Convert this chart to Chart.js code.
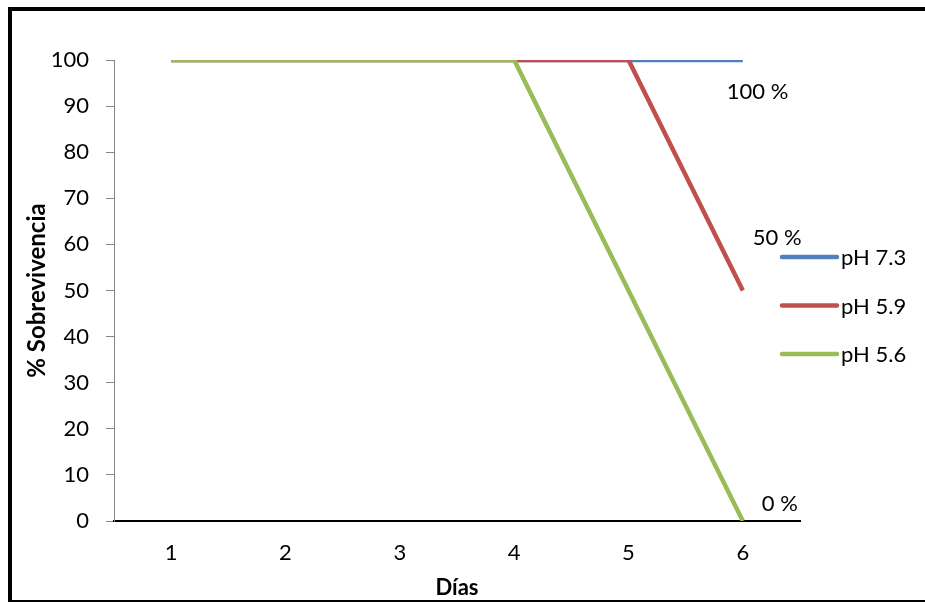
<!DOCTYPE html>
<html><head><meta charset="utf-8">
<script src="https://cdn.jsdelivr.net/npm/chart.js@4/dist/chart.umd.min.js"></script>
<style>html,body{margin:0;padding:0;background:#fff;}#wrap{width:925px;height:602px;position:relative}</style>
</head><body><div id="wrap"><canvas id="c" width="925" height="602"></canvas></div>
<script>
const categories = ['1', '2', '3', '4', '5', '6'];
const seriesNames = ['pH 7.3', 'pH 5.9', 'pH 5.6'];
const ph73 = [100, 100, 100, 100, 100, 100];
const ph59 = [100, 100, 100, 100, 100, 50];
const ph56 = [100, 100, 100, 100, 50, 0];
const seriesColors = ['#4F81BD', '#C0504D', '#9BBB59'];
const yTitle = '% Sobrevivencia';
const xTitle = 'Días';

const FONT = 'Lato';

const framePlugin = {
  id: 'frame',
  beforeDraw(chart) {
    const ctx = chart.ctx;
    ctx.save();
    ctx.fillStyle = '#fff';
    ctx.fillRect(0, 0, chart.width, chart.height);
    ctx.fillStyle = '#000';
    ctx.fillRect(8, 7, 4, chart.height - 7);
    ctx.fillRect(8, 7, chart.width - 8, 4);
    ctx.fillRect(8, chart.height - 2, chart.width - 8, 2);
    ctx.restore();
  }
};

const legendPlugin = {
  id: 'customLegend',
  afterDraw(chart, args, opts) {
    const ctx = chart.ctx;
    ctx.save();
    ctx.font = '22px ' + FONT;
    ctx.textBaseline = 'middle';
    ctx.textAlign = 'left';
    chart.data.datasets.forEach((ds, i) => {
      const y = opts.top + i * opts.spacing;
      ctx.strokeStyle = ds.borderColor;
      ctx.lineWidth = 4.5;
      ctx.lineCap = 'round';
      ctx.beginPath();
      ctx.moveTo(opts.left, y);
      ctx.lineTo(opts.left + opts.lineLen, y);
      ctx.stroke();
      ctx.fillStyle = '#000';
      ctx.fillText(ds.label, opts.left + opts.lineLen + 4, y + 1);
    });
    ctx.restore();
  }
};

const labelPlugin = {
  id: 'endLabels',
  afterDatasetsDraw(chart, args, opts) {
    const ctx = chart.ctx;
    ctx.save();
    ctx.font = '22px ' + FONT;
    ctx.textBaseline = 'middle';
    ctx.textAlign = 'left';
    ctx.fillStyle = '#000';
    chart.data.datasets.forEach((ds, i) => {
      const meta = chart.getDatasetMeta(i);
      const last = meta.data.length - 1;
      const pt = meta.data[last];
      const off = opts.offsets[i];
      ctx.fillText(ds.data[last] + ' %', pt.x + off.dx, pt.y + off.dy);
    });
    ctx.restore();
  }
};

new Chart(document.getElementById('c'), {
  type: 'line',
  data: {
    labels: categories,
    datasets: [
      { label: seriesNames[0], data: ph73, borderColor: seriesColors[0], backgroundColor: seriesColors[0], order: 3 },
      { label: seriesNames[1], data: ph59, borderColor: seriesColors[1], backgroundColor: seriesColors[1], order: 2 },
      { label: seriesNames[2], data: ph56, borderColor: seriesColors[2], backgroundColor: seriesColors[2], order: 1 }
    ]
  },
  options: {
    responsive: false,
    animation: false,
    events: [],
    elements: {
      line: { borderWidth: 4.5, tension: 0 },
      point: { radius: 0 }
    },
    layout: { padding: { left: 0, top: 60, right: 125, bottom: 0 } },
    plugins: {
      legend: { display: false },
      tooltip: { enabled: false },
      customLegend: { left: 782, lineLen: 55, top: 257, spacing: 48.5 },
      endLabels: { offsets: [{ dx: -16, dy: 32 }, { dx: 10, dy: -53 }, { dx: 19, dy: -17 }] }
    },
    scales: {
      x: {
        type: 'category',
        offset: true,
        grid: { display: false, drawTicks: false },
        border: { display: true, color: '#000', width: 2 },
        ticks: { color: '#000', font: { family: FONT, size: 22 }, padding: 19, maxRotation: 0 },
        title: { display: true, text: xTitle, color: '#000', font: { family: FONT, size: 22, weight: 'bold' }, padding: { top: 0, bottom: 1 } },
        afterFit(scale) { scale.height = 81; }
      },
      y: {
        min: 0, max: 100,
        grid: { display: true, drawOnChartArea: false, drawTicks: true, tickLength: 8, color: '#868686', lineWidth: 1 },
        border: { display: true, color: '#868686', width: 1 },
        ticks: { stepSize: 10, color: '#000', font: { family: FONT, size: 22 }, padding: 17 },
        title: { display: true, text: yTitle, color: '#000', font: { family: FONT, size: 24, weight: 'bold' }, padding: { top: 23, bottom: 0 } },
        afterFit(scale) { scale.width = 114; }
      }
    }
  },
  plugins: [framePlugin, legendPlugin, labelPlugin]
});
</script>
</body></html>
